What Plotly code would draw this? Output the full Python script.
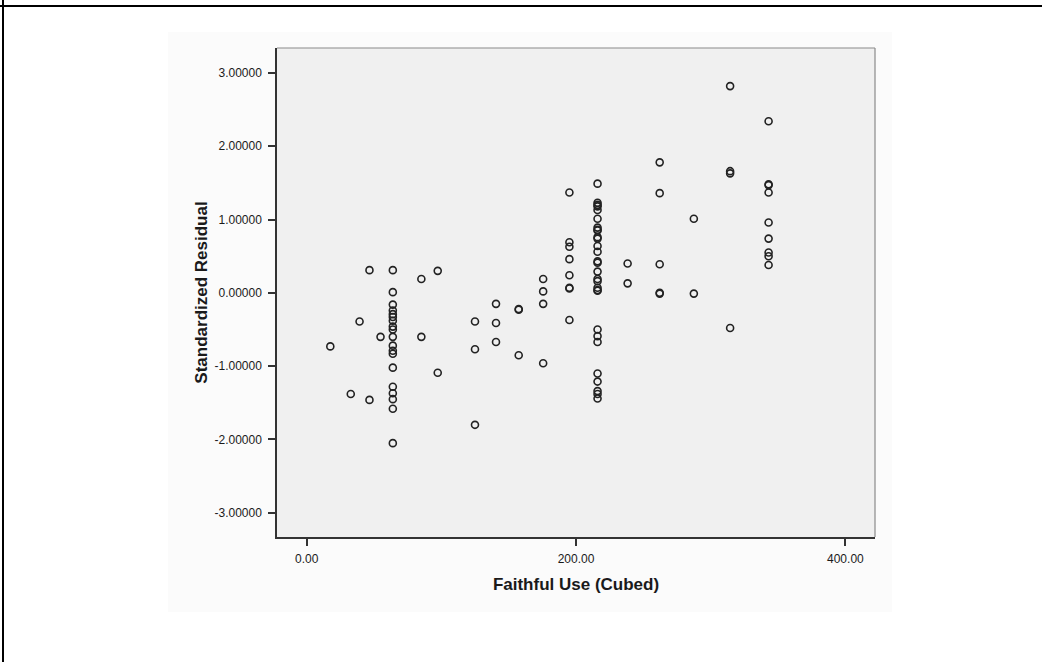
import plotly.graph_objects as go

# Faithful Use (Cubed) values and standardized residuals
x_vals = (
    [17.58] + [32.77] + [39.30] + [46.66, 46.66] + [54.87]
    + [64.0] * 19
    + [85.18, 85.18] + [97.34, 97.34]
    + [125.0, 125.0, 125.0] + [140.61, 140.61, 140.61]
    + [157.46, 157.46, 157.46] + [175.62, 175.62, 175.62, 175.62]
    + [195.11] * 8
    + [216.0] * 29
    + [238.33, 238.33] + [262.14] * 5 + [287.50, 287.50]
    + [314.43] * 4 + [343.0] * 9
)
residuals = (
    [-0.73] + [-1.38] + [-0.39] + [0.31, -1.46] + [-0.60]
    + [0.31, 0.01, -0.16, -0.24, -0.29, -0.33, -0.38, -0.46, -0.50, -0.60,
       -0.72, -0.79, -0.83, -1.02, -1.28, -1.37, -1.45, -1.58, -2.05]
    + [0.19, -0.60] + [0.30, -1.09]
    + [-0.39, -0.77, -1.80] + [-0.15, -0.41, -0.67]
    + [-0.22, -0.23, -0.85] + [0.19, 0.02, -0.15, -0.96]
    + [1.37, 0.69, 0.63, 0.46, 0.24, 0.07, 0.06, -0.37]
    + [1.49, 1.23, 1.20, 1.13, 1.01, 0.89, 0.86, 0.76, 0.74, 0.64, 0.56,
       0.43, 0.41, 0.29, 0.19, 0.16, 0.07, 0.04, 0.03,
       -0.50, -0.59, -0.67, -1.10, -1.21, -1.34, -1.38, -1.44, 0.85, 1.18]
    + [0.40, 0.13] + [1.78, 1.36, 0.39, 0.0, -0.01] + [1.01, -0.01]
    + [2.82, 1.66, 1.63, -0.48]
    + [2.34, 1.48, 1.47, 1.37, 0.96, 0.74, 0.55, 0.50, 0.38]
)

x_ticks = [0, 200, 400]
x_tick_labels = ["0.00", "200.00", "400.00"]
y_ticks = [-3, -2, -1, 0, 1, 2, 3]
y_tick_labels = ["-3.00000", "-2.00000", "-1.00000", "0.00000",
                 "1.00000", "2.00000", "3.00000"]
x_title = "Faithful Use (Cubed)"
y_title = "Standardized Residual"

L, R, T, B = 277, 875, 48, 537
W, H = 1042, 662
pw, ph = R - L, B - T

def px(x):
    return (x - L) / pw

def py(y):
    return (B - y) / ph

fig = go.Figure()
fig.add_trace(go.Scatter(
    x=x_vals, y=residuals, mode="markers",
    marker=dict(symbol="circle-open", size=7, color="#222222",
                line=dict(width=1.6, color="#222222")),
    hoverinfo="x+y", showlegend=False,
))

shapes = [
    # faint chart panel
    dict(type="rect", xref="paper", yref="paper", x0=px(168), x1=px(892),
         y0=py(612), y1=py(32), fillcolor="#fbfbfb", line=dict(width=0),
         layer="below"),
    # plot area fill
    dict(type="rect", xref="paper", yref="paper", x0=0, x1=1, y0=0, y1=1,
         fillcolor="#f0f0f0", line=dict(width=0), layer="below"),
    # outer frame lines
    dict(type="line", xref="paper", yref="paper", x0=px(0), x1=px(W),
         y0=py(6), y1=py(6), line=dict(color="#000000", width=2)),
    dict(type="line", xref="paper", yref="paper", x0=px(3), x1=px(3),
         y0=py(0), y1=py(H), line=dict(color="#000000", width=2)),
    # light top/right border of plot area
    dict(type="line", xref="paper", yref="paper", x0=0, x1=1, y0=1, y1=1,
         line=dict(color="#8a8a8a", width=1.2)),
    dict(type="line", xref="paper", yref="paper", x0=1, x1=1, y0=0, y1=1,
         line=dict(color="#8a8a8a", width=1.2)),
]

fig.update_layout(
    width=W, height=H,
    margin=dict(l=L, r=W - R, t=T, b=H - B, pad=0),
    paper_bgcolor="white",
    plot_bgcolor="#f0f0f0",
    font=dict(family="Liberation Sans, Arial, sans-serif", color="#1a1a1a", size=12),
    shapes=shapes,
    xaxis=dict(
        range=[-22, 422], tickvals=x_ticks, ticktext=x_tick_labels,
        showgrid=False, zeroline=False, showline=True, linecolor="#333333",
        linewidth=1.5, ticks="outside", ticklen=7, tickwidth=1.5,
        tickcolor="#333333", tickfont=dict(size=12), ticklabelstandoff=3,
        title=dict(text="<b>" + x_title + "</b>", font=dict(size=17), standoff=13),
    ),
    yaxis=dict(
        range=[-3.33, 3.34], tickvals=y_ticks, ticktext=y_tick_labels,
        showgrid=False, zeroline=False, showline=True, linecolor="#333333",
        linewidth=1.5, ticks="outside", ticklen=7, tickwidth=1.5,
        tickcolor="#333333", tickfont=dict(size=12), ticklabelstandoff=4,
        title=dict(text="<b>" + y_title + "</b>", font=dict(size=17), standoff=3),
    ),
)

fig.write_html(
    "out.html",
    config={"displayModeBar": False},
    post_script="document.body.style.margin='0';document.body.style.padding='0';",
)
